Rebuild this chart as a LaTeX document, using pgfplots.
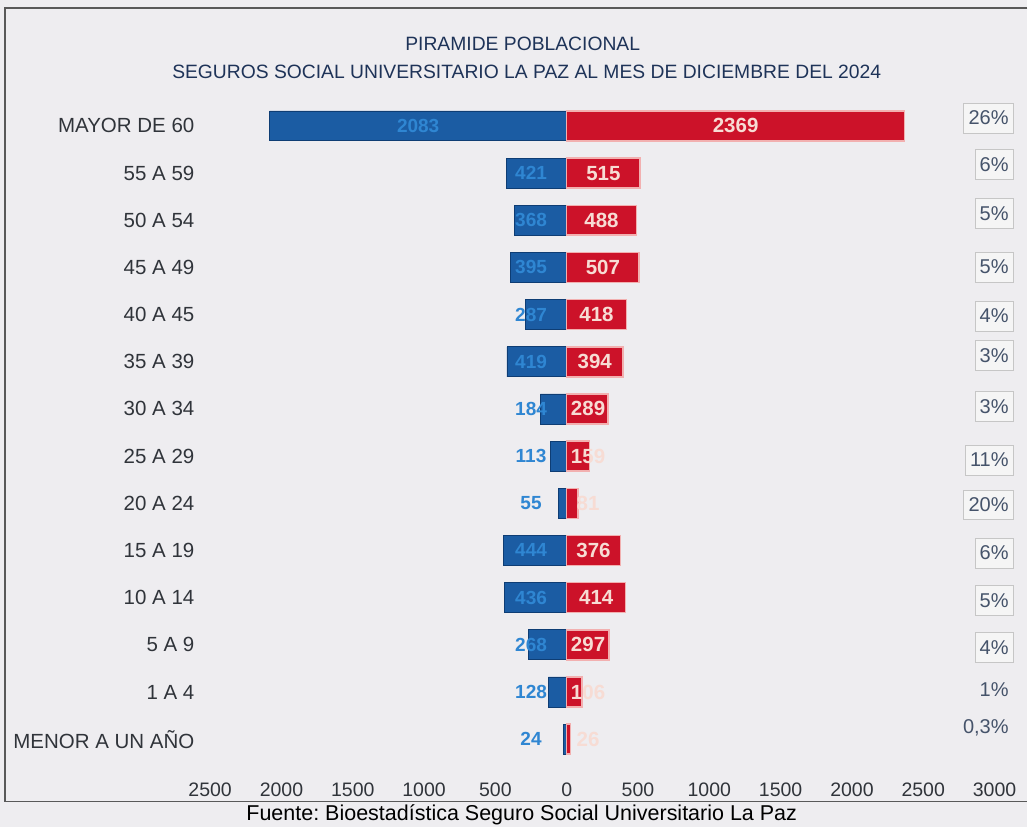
\documentclass[border=0pt]{standalone}
\usepackage{pgfplots}
\usepackage{pgfplotstable}
\usepackage{fontspec}
\setmainfont{Liberation Sans}
\pgfplotsset{compat=1.18}
\pgfkeys{/pgf/number format/1000 sep={}}
\frenchspacing

\definecolor{bg}{HTML}{EEEDF0}
\definecolor{hombre}{HTML}{1B5CA3}
\definecolor{hombreline}{HTML}{0E3D74}
\definecolor{mujer}{HTML}{CC1229}
\definecolor{mujerline}{HTML}{F2B0B0}
\definecolor{lblblue}{HTML}{2F86D2}
\definecolor{lblred}{HTML}{F7DCD4}
\definecolor{titlecol}{HTML}{1E3358}
\definecolor{txt}{HTML}{30343A}
\definecolor{pcttxt}{HTML}{45536A}

% edades: fila, hombres, mujeres
\pgfplotstableread{
row m f
0 2083 2369
1 421 515
2 368 488
3 395 507
4 287 418
5 419 394
6 184 289
7 113 159
8 55 81
9 444 376
10 436 414
11 268 297
12 128 106
13 24 26
}\piramide

% porcentajes (con recuadro)
\pgfplotstableread{
px py lab
3135 -0.17 26\%
3135 0.82 6\%
3135 1.86 5\%
3135 2.99 5\%
3135 4.03 4\%
3135 4.87 3\%
3135 5.95 3\%
3135 7.08 11\%
3135 8.03 20\%
3135 9.05 6\%
3135 10.06 5\%
3135 11.06 4\%
}\pctbox
\pgfplotstableread{
px py lab
3135 11.95 1\%
3135 12.75 0,3\%
}\pctplain

\begin{document}
\begin{tikzpicture}
\fill[bg] (0pt,0pt) rectangle (1028pt,-827pt);
\draw[gray!70!black, line width=1.2pt] (1028pt,-8pt) -- (5pt,-8pt) -- (5pt,-802pt) -- (1028pt,-802pt);

\node[font=\fontsize{19.3}{22}\selectfont, text=titlecol] at (523pt,-44pt) {PIRAMIDE POBLACIONAL};
\node[font=\fontsize{19.3}{22}\selectfont, text=titlecol] at (527pt,-72pt) {SEGUROS SOCIAL UNIVERSITARIO LA PAZ AL MES DE DICIEMBRE DEL 2024};
\node[font=\fontsize{21.5}{22}\selectfont, text=black, inner sep=0pt] at (522pt,-815pt) {Fuente: Bioestadística Seguro Social Universitario La Paz};

\begin{axis}[
    at={(196pt,-772.6pt)}, anchor=south west,
    x=0.1427pt, y=47.2pt,
    y dir=reverse,
    xmin=-2600, xmax=3150,
    ymin=-0.75, ymax=13.7,
    axis line style={draw=none},
    major tick length=0pt,
    /pgf/number format/assume math mode=true,
    xtick={-2500,-2000,...,3000},
    xticklabel={\pgfmathparse{abs(\tick)}\pgfmathprintnumber[fixed,precision=0]{\pgfmathresult}},
    ytick={0,...,13},
    yticklabels={MAYOR DE 60,55 A 59,50 A 54,45 A 49,40 A 45,35 A 39,30 A 34,25 A 29,20 A 24,15 A 19,10 A 14,5 A 9,1 A 4,MENOR A UN AÑO},
    yticklabel style={font=\fontsize{20.5}{22}\selectfont, text=txt, xshift=2pt},
    xticklabel style={font=\fontsize{19.5}{22}\selectfont, text=txt, yshift=-7pt},
    clip=false,
    xbar, bar width=30pt, bar shift=0pt,
]
\addplot[fill=hombre, draw=hombreline, line width=0.8pt]
    table[x expr=-\thisrow{m}, y=row] {\piramide};
\addplot[fill=mujer, draw=mujerline, line width=1.5pt]
    table[x=f, y=row] {\piramide};

% etiquetas de valores
\addplot[draw=none, mark=none, xbar=false, nodes near coords, point meta=explicit,
    nodes near coords style={anchor=center, font=\bfseries\fontsize{19}{20}\selectfont, text=lblblue}]
    table[x expr={-max(\thisrow{m}/2,250)}, y=row, meta=m] {\piramide};
\addplot[draw=none, mark=none, xbar=false, nodes near coords, point meta=explicit,
    nodes near coords style={anchor=center, font=\bfseries\fontsize{20.5}{22}\selectfont, text=lblred}]
    table[x expr={max(\thisrow{f}/2,150)}, y=row, meta=f] {\piramide};

% porcentajes
\addplot[draw=none, mark=none, xbar=false, nodes near coords, point meta=explicit symbolic,
    nodes near coords style={anchor=east, font=\fontsize{20}{22}\selectfont, text=pcttxt,
      fill=gray!8, draw=gray!45, inner sep=5pt, minimum height=30pt}]
    table[x=px, y=py, meta=lab] {\pctbox};
\addplot[draw=none, mark=none, xbar=false, nodes near coords, point meta=explicit symbolic,
    nodes near coords style={anchor=east, font=\fontsize{20}{22}\selectfont, text=pcttxt, inner sep=5pt}]
    table[x=px, y=py, meta=lab] {\pctplain};
\end{axis}
\end{tikzpicture}
\end{document}
